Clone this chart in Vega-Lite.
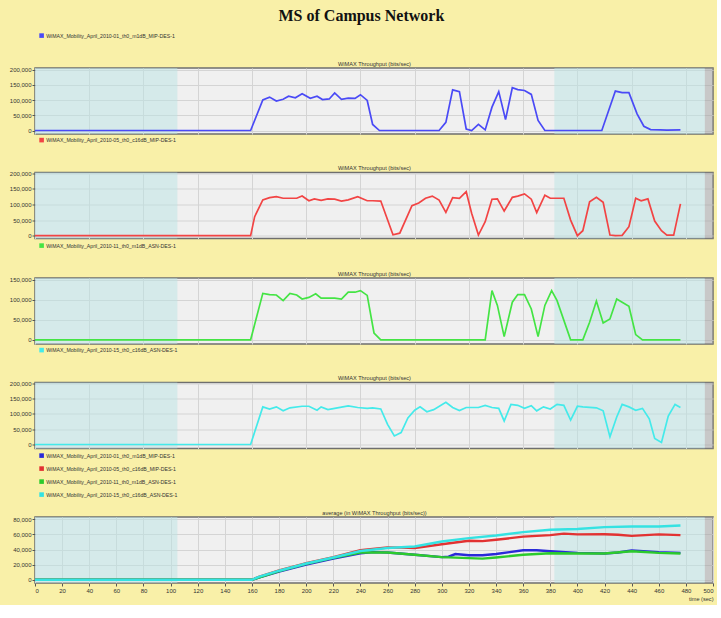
{
  "$schema": "https://vega.github.io/schema/vega-lite/v6.json",
  "background": "#F9F0A8",
  "padding": {"left": 8, "top": 8, "right": 2, "bottom": 2},
  "title": {
    "text": "MS of Campus Network",
    "font": "Liberation Serif",
    "fontSize": 16,
    "fontWeight": "bold",
    "color": "#111111",
    "anchor": "middle",
    "frame": "bounds",
    "offset": 8
  },
  "config": {
    "font": "Liberation Sans",
    "view": {"fill": "#F0F0F0", "stroke": "#6E6E6E", "strokeWidth": 1.5},
    "axis": {
      "labelFont": "Liberation Sans",
      "labelFontSize": 6,
      "labelColor": "#333333",
      "tickColor": "#555555",
      "tickSize": 3,
      "domain": false,
      "gridColor": "#D4D4D4",
      "gridWidth": 1,
      "labelPadding": 1,
      "titleFont": "Liberation Sans",
      "titleFontSize": 5.6,
      "titleFontWeight": "normal",
      "titleColor": "#333333"
    },
    "legend": {
      "orient": "none",
      "labelFont": "Liberation Sans",
      "labelFontSize": 5.2,
      "labelColor": "#333333",
      "symbolType": "square",
      "symbolSize": 4,
      "symbolStrokeWidth": 2.6,
      "rowPadding": 0,
      "labelOffset": 2,
      "padding": 0,
      "title": null
    }
  },
  "datasets": {
    "bands": [
      {"start": 0, "end": 105, "kind": "zone"},
      {"start": 383, "end": 494, "kind": "zone"},
      {"start": 494, "end": 500, "kind": "edge"}
    ],
    "s1": [
      {"t": 0, "v": 0}, {"t": 159, "v": 0}, {"t": 168, "v": 101000}, {"t": 173, "v": 110000},
      {"t": 178, "v": 97000}, {"t": 183, "v": 103000}, {"t": 187, "v": 113000}, {"t": 192, "v": 108000},
      {"t": 197, "v": 121000}, {"t": 203, "v": 106000}, {"t": 208, "v": 113000}, {"t": 212, "v": 102000},
      {"t": 217, "v": 104000}, {"t": 221, "v": 124000}, {"t": 226, "v": 103000}, {"t": 231, "v": 107000},
      {"t": 236, "v": 106000}, {"t": 240, "v": 118000}, {"t": 245, "v": 99000}, {"t": 249, "v": 20000},
      {"t": 254, "v": 0}, {"t": 298, "v": 0}, {"t": 303, "v": 27000}, {"t": 308, "v": 134000},
      {"t": 313, "v": 128000}, {"t": 318, "v": 5000}, {"t": 322, "v": 0}, {"t": 327, "v": 20000},
      {"t": 332, "v": 2000}, {"t": 337, "v": 77000}, {"t": 342, "v": 128000}, {"t": 347, "v": 36000},
      {"t": 352, "v": 141000}, {"t": 356, "v": 135000}, {"t": 361, "v": 132000}, {"t": 366, "v": 119000},
      {"t": 371, "v": 33000}, {"t": 376, "v": 0}, {"t": 418, "v": 0}, {"t": 428, "v": 130000},
      {"t": 433, "v": 125000}, {"t": 438, "v": 125000}, {"t": 444, "v": 55000}, {"t": 449, "v": 14000},
      {"t": 454, "v": 3000}, {"t": 461, "v": 2000}, {"t": 466, "v": 1000}, {"t": 476, "v": 2000}
    ],
    "s2": [
      {"t": 0, "v": 0}, {"t": 159, "v": 0}, {"t": 162, "v": 61000}, {"t": 168, "v": 115000},
      {"t": 173, "v": 122000}, {"t": 178, "v": 125000}, {"t": 183, "v": 120000}, {"t": 188, "v": 120000},
      {"t": 193, "v": 120000}, {"t": 197, "v": 127000}, {"t": 202, "v": 112000}, {"t": 206, "v": 118000},
      {"t": 211, "v": 113000}, {"t": 216, "v": 118000}, {"t": 221, "v": 117000}, {"t": 226, "v": 111000},
      {"t": 231, "v": 115000}, {"t": 238, "v": 125000}, {"t": 245, "v": 112000}, {"t": 249, "v": 112000},
      {"t": 255, "v": 111000}, {"t": 264, "v": 3000}, {"t": 269, "v": 8000}, {"t": 278, "v": 96000},
      {"t": 283, "v": 105000}, {"t": 288, "v": 120000}, {"t": 293, "v": 127000}, {"t": 298, "v": 114000},
      {"t": 303, "v": 75000}, {"t": 308, "v": 122000}, {"t": 313, "v": 120000}, {"t": 318, "v": 141000},
      {"t": 322, "v": 72000}, {"t": 327, "v": 2000}, {"t": 332, "v": 45000}, {"t": 337, "v": 117000},
      {"t": 341, "v": 118000}, {"t": 346, "v": 79000}, {"t": 352, "v": 123000}, {"t": 356, "v": 127000},
      {"t": 361, "v": 134000}, {"t": 366, "v": 117000}, {"t": 370, "v": 74000}, {"t": 376, "v": 130000},
      {"t": 380, "v": 120000}, {"t": 390, "v": 120000}, {"t": 395, "v": 50000}, {"t": 400, "v": 0},
      {"t": 404, "v": 16000}, {"t": 409, "v": 109000}, {"t": 414, "v": 123000}, {"t": 419, "v": 107000},
      {"t": 424, "v": 2000}, {"t": 428, "v": 0}, {"t": 433, "v": 1000}, {"t": 438, "v": 29000},
      {"t": 443, "v": 120000}, {"t": 447, "v": 112000}, {"t": 452, "v": 118000}, {"t": 457, "v": 47000},
      {"t": 462, "v": 16000}, {"t": 466, "v": 2000}, {"t": 471, "v": 2000}, {"t": 476, "v": 102000}
    ],
    "s3": [
      {"t": 0, "v": 0}, {"t": 159, "v": 0}, {"t": 168, "v": 116000}, {"t": 173, "v": 113000},
      {"t": 178, "v": 112000}, {"t": 183, "v": 98000}, {"t": 188, "v": 116000}, {"t": 193, "v": 112000},
      {"t": 197, "v": 102000}, {"t": 202, "v": 106000}, {"t": 207, "v": 115000}, {"t": 211, "v": 104000},
      {"t": 221, "v": 104000}, {"t": 226, "v": 102000}, {"t": 231, "v": 119000}, {"t": 236, "v": 119000},
      {"t": 240, "v": 123000}, {"t": 245, "v": 111000}, {"t": 250, "v": 17000}, {"t": 255, "v": 0},
      {"t": 332, "v": 0}, {"t": 337, "v": 123000}, {"t": 341, "v": 86000}, {"t": 346, "v": 8000},
      {"t": 352, "v": 94000}, {"t": 356, "v": 113000}, {"t": 361, "v": 113000}, {"t": 366, "v": 77000},
      {"t": 371, "v": 8000}, {"t": 376, "v": 86000}, {"t": 381, "v": 123000}, {"t": 385, "v": 98000},
      {"t": 395, "v": 0}, {"t": 404, "v": 0}, {"t": 409, "v": 44000}, {"t": 414, "v": 97000},
      {"t": 419, "v": 42000}, {"t": 424, "v": 52000}, {"t": 429, "v": 102000}, {"t": 433, "v": 94000},
      {"t": 438, "v": 84000}, {"t": 443, "v": 13000}, {"t": 448, "v": 0}, {"t": 476, "v": 0}
    ],
    "s4": [
      {"t": 0, "v": 0}, {"t": 159, "v": 0}, {"t": 168, "v": 123000}, {"t": 173, "v": 116000},
      {"t": 178, "v": 123000}, {"t": 183, "v": 110000}, {"t": 188, "v": 120000}, {"t": 197, "v": 125000},
      {"t": 202, "v": 125000}, {"t": 208, "v": 112000}, {"t": 211, "v": 123000}, {"t": 216, "v": 114000},
      {"t": 221, "v": 118000}, {"t": 231, "v": 126000}, {"t": 238, "v": 121000}, {"t": 245, "v": 118000},
      {"t": 249, "v": 120000}, {"t": 255, "v": 116000}, {"t": 260, "v": 66000}, {"t": 265, "v": 28000},
      {"t": 270, "v": 39000}, {"t": 275, "v": 87000}, {"t": 280, "v": 112000}, {"t": 284, "v": 123000},
      {"t": 289, "v": 107000}, {"t": 294, "v": 114000}, {"t": 303, "v": 138000}, {"t": 308, "v": 121000},
      {"t": 313, "v": 111000}, {"t": 318, "v": 121000}, {"t": 327, "v": 121000}, {"t": 332, "v": 128000},
      {"t": 337, "v": 121000}, {"t": 342, "v": 118000}, {"t": 346, "v": 77000}, {"t": 351, "v": 131000},
      {"t": 356, "v": 128000}, {"t": 361, "v": 118000}, {"t": 366, "v": 127000}, {"t": 370, "v": 110000},
      {"t": 375, "v": 123000}, {"t": 380, "v": 116000}, {"t": 385, "v": 131000}, {"t": 390, "v": 128000},
      {"t": 395, "v": 80000}, {"t": 400, "v": 125000}, {"t": 404, "v": 123000}, {"t": 414, "v": 120000},
      {"t": 419, "v": 110000}, {"t": 424, "v": 25000}, {"t": 429, "v": 90000}, {"t": 433, "v": 131000},
      {"t": 438, "v": 123000}, {"t": 443, "v": 112000}, {"t": 448, "v": 118000}, {"t": 453, "v": 84000},
      {"t": 457, "v": 20000}, {"t": 462, "v": 7000}, {"t": 467, "v": 93000}, {"t": 472, "v": 131000},
      {"t": 476, "v": 121000}
    ],
    "avg": [
      {"series": "WiMAX_Mobility_April_2010-01_th0_m1dB_MIP-DES-1", "t": 0, "v": 0},
      {"series": "WiMAX_Mobility_April_2010-01_th0_m1dB_MIP-DES-1", "t": 160, "v": 0},
      {"series": "WiMAX_Mobility_April_2010-01_th0_m1dB_MIP-DES-1", "t": 165, "v": 3000},
      {"series": "WiMAX_Mobility_April_2010-01_th0_m1dB_MIP-DES-1", "t": 180, "v": 11000},
      {"series": "WiMAX_Mobility_April_2010-01_th0_m1dB_MIP-DES-1", "t": 200, "v": 20000},
      {"series": "WiMAX_Mobility_April_2010-01_th0_m1dB_MIP-DES-1", "t": 220, "v": 28000},
      {"series": "WiMAX_Mobility_April_2010-01_th0_m1dB_MIP-DES-1", "t": 240, "v": 35000},
      {"series": "WiMAX_Mobility_April_2010-01_th0_m1dB_MIP-DES-1", "t": 250, "v": 36500},
      {"series": "WiMAX_Mobility_April_2010-01_th0_m1dB_MIP-DES-1", "t": 260, "v": 36000},
      {"series": "WiMAX_Mobility_April_2010-01_th0_m1dB_MIP-DES-1", "t": 280, "v": 33000},
      {"series": "WiMAX_Mobility_April_2010-01_th0_m1dB_MIP-DES-1", "t": 300, "v": 30000},
      {"series": "WiMAX_Mobility_April_2010-01_th0_m1dB_MIP-DES-1", "t": 305, "v": 30500},
      {"series": "WiMAX_Mobility_April_2010-01_th0_m1dB_MIP-DES-1", "t": 310, "v": 34000},
      {"series": "WiMAX_Mobility_April_2010-01_th0_m1dB_MIP-DES-1", "t": 320, "v": 32500},
      {"series": "WiMAX_Mobility_April_2010-01_th0_m1dB_MIP-DES-1", "t": 330, "v": 32500},
      {"series": "WiMAX_Mobility_April_2010-01_th0_m1dB_MIP-DES-1", "t": 340, "v": 34000},
      {"series": "WiMAX_Mobility_April_2010-01_th0_m1dB_MIP-DES-1", "t": 350, "v": 36500},
      {"series": "WiMAX_Mobility_April_2010-01_th0_m1dB_MIP-DES-1", "t": 360, "v": 39000},
      {"series": "WiMAX_Mobility_April_2010-01_th0_m1dB_MIP-DES-1", "t": 370, "v": 39000},
      {"series": "WiMAX_Mobility_April_2010-01_th0_m1dB_MIP-DES-1", "t": 380, "v": 37700},
      {"series": "WiMAX_Mobility_April_2010-01_th0_m1dB_MIP-DES-1", "t": 400, "v": 35600},
      {"series": "WiMAX_Mobility_April_2010-01_th0_m1dB_MIP-DES-1", "t": 420, "v": 34700},
      {"series": "WiMAX_Mobility_April_2010-01_th0_m1dB_MIP-DES-1", "t": 430, "v": 36000},
      {"series": "WiMAX_Mobility_April_2010-01_th0_m1dB_MIP-DES-1", "t": 440, "v": 38600},
      {"series": "WiMAX_Mobility_April_2010-01_th0_m1dB_MIP-DES-1", "t": 460, "v": 36500},
      {"series": "WiMAX_Mobility_April_2010-01_th0_m1dB_MIP-DES-1", "t": 476, "v": 35600},
      {"series": "WiMAX_Mobility_April_2010-05_th0_c16dB_MIP-DES-1", "t": 0, "v": 0},
      {"series": "WiMAX_Mobility_April_2010-05_th0_c16dB_MIP-DES-1", "t": 160, "v": 0},
      {"series": "WiMAX_Mobility_April_2010-05_th0_c16dB_MIP-DES-1", "t": 165, "v": 4000},
      {"series": "WiMAX_Mobility_April_2010-05_th0_c16dB_MIP-DES-1", "t": 180, "v": 12500},
      {"series": "WiMAX_Mobility_April_2010-05_th0_c16dB_MIP-DES-1", "t": 200, "v": 22000},
      {"series": "WiMAX_Mobility_April_2010-05_th0_c16dB_MIP-DES-1", "t": 220, "v": 30000},
      {"series": "WiMAX_Mobility_April_2010-05_th0_c16dB_MIP-DES-1", "t": 240, "v": 39000},
      {"series": "WiMAX_Mobility_April_2010-05_th0_c16dB_MIP-DES-1", "t": 260, "v": 42600},
      {"series": "WiMAX_Mobility_April_2010-05_th0_c16dB_MIP-DES-1", "t": 270, "v": 42500},
      {"series": "WiMAX_Mobility_April_2010-05_th0_c16dB_MIP-DES-1", "t": 280, "v": 42000},
      {"series": "WiMAX_Mobility_April_2010-05_th0_c16dB_MIP-DES-1", "t": 300, "v": 47000},
      {"series": "WiMAX_Mobility_April_2010-05_th0_c16dB_MIP-DES-1", "t": 320, "v": 51500},
      {"series": "WiMAX_Mobility_April_2010-05_th0_c16dB_MIP-DES-1", "t": 330, "v": 51000},
      {"series": "WiMAX_Mobility_April_2010-05_th0_c16dB_MIP-DES-1", "t": 340, "v": 52800},
      {"series": "WiMAX_Mobility_April_2010-05_th0_c16dB_MIP-DES-1", "t": 360, "v": 57000},
      {"series": "WiMAX_Mobility_April_2010-05_th0_c16dB_MIP-DES-1", "t": 380, "v": 59000},
      {"series": "WiMAX_Mobility_April_2010-05_th0_c16dB_MIP-DES-1", "t": 390, "v": 61000},
      {"series": "WiMAX_Mobility_April_2010-05_th0_c16dB_MIP-DES-1", "t": 400, "v": 60000},
      {"series": "WiMAX_Mobility_April_2010-05_th0_c16dB_MIP-DES-1", "t": 420, "v": 60200},
      {"series": "WiMAX_Mobility_April_2010-05_th0_c16dB_MIP-DES-1", "t": 430, "v": 59500},
      {"series": "WiMAX_Mobility_April_2010-05_th0_c16dB_MIP-DES-1", "t": 440, "v": 58000},
      {"series": "WiMAX_Mobility_April_2010-05_th0_c16dB_MIP-DES-1", "t": 460, "v": 60000},
      {"series": "WiMAX_Mobility_April_2010-05_th0_c16dB_MIP-DES-1", "t": 476, "v": 59000},
      {"series": "WiMAX_Mobility_April_2010-11_th0_m1dB_ASN-DES-1", "t": 0, "v": 0},
      {"series": "WiMAX_Mobility_April_2010-11_th0_m1dB_ASN-DES-1", "t": 160, "v": 0},
      {"series": "WiMAX_Mobility_April_2010-11_th0_m1dB_ASN-DES-1", "t": 165, "v": 3000},
      {"series": "WiMAX_Mobility_April_2010-11_th0_m1dB_ASN-DES-1", "t": 180, "v": 11500},
      {"series": "WiMAX_Mobility_April_2010-11_th0_m1dB_ASN-DES-1", "t": 200, "v": 21000},
      {"series": "WiMAX_Mobility_April_2010-11_th0_m1dB_ASN-DES-1", "t": 220, "v": 29000},
      {"series": "WiMAX_Mobility_April_2010-11_th0_m1dB_ASN-DES-1", "t": 240, "v": 36000},
      {"series": "WiMAX_Mobility_April_2010-11_th0_m1dB_ASN-DES-1", "t": 260, "v": 36000},
      {"series": "WiMAX_Mobility_April_2010-11_th0_m1dB_ASN-DES-1", "t": 280, "v": 33000},
      {"series": "WiMAX_Mobility_April_2010-11_th0_m1dB_ASN-DES-1", "t": 300, "v": 30000},
      {"series": "WiMAX_Mobility_April_2010-11_th0_m1dB_ASN-DES-1", "t": 320, "v": 28600},
      {"series": "WiMAX_Mobility_April_2010-11_th0_m1dB_ASN-DES-1", "t": 330, "v": 28000},
      {"series": "WiMAX_Mobility_April_2010-11_th0_m1dB_ASN-DES-1", "t": 340, "v": 29500},
      {"series": "WiMAX_Mobility_April_2010-11_th0_m1dB_ASN-DES-1", "t": 360, "v": 33000},
      {"series": "WiMAX_Mobility_April_2010-11_th0_m1dB_ASN-DES-1", "t": 380, "v": 35000},
      {"series": "WiMAX_Mobility_April_2010-11_th0_m1dB_ASN-DES-1", "t": 400, "v": 34700},
      {"series": "WiMAX_Mobility_April_2010-11_th0_m1dB_ASN-DES-1", "t": 420, "v": 34700},
      {"series": "WiMAX_Mobility_April_2010-11_th0_m1dB_ASN-DES-1", "t": 440, "v": 37700},
      {"series": "WiMAX_Mobility_April_2010-11_th0_m1dB_ASN-DES-1", "t": 460, "v": 35600},
      {"series": "WiMAX_Mobility_April_2010-11_th0_m1dB_ASN-DES-1", "t": 476, "v": 34700},
      {"series": "WiMAX_Mobility_April_2010-15_th0_c16dB_ASN-DES-1", "t": 0, "v": 0},
      {"series": "WiMAX_Mobility_April_2010-15_th0_c16dB_ASN-DES-1", "t": 160, "v": 0},
      {"series": "WiMAX_Mobility_April_2010-15_th0_c16dB_ASN-DES-1", "t": 165, "v": 4000},
      {"series": "WiMAX_Mobility_April_2010-15_th0_c16dB_ASN-DES-1", "t": 180, "v": 12000},
      {"series": "WiMAX_Mobility_April_2010-15_th0_c16dB_ASN-DES-1", "t": 200, "v": 21500},
      {"series": "WiMAX_Mobility_April_2010-15_th0_c16dB_ASN-DES-1", "t": 220, "v": 29500},
      {"series": "WiMAX_Mobility_April_2010-15_th0_c16dB_ASN-DES-1", "t": 240, "v": 38000},
      {"series": "WiMAX_Mobility_April_2010-15_th0_c16dB_ASN-DES-1", "t": 260, "v": 42000},
      {"series": "WiMAX_Mobility_April_2010-15_th0_c16dB_ASN-DES-1", "t": 280, "v": 44000},
      {"series": "WiMAX_Mobility_April_2010-15_th0_c16dB_ASN-DES-1", "t": 300, "v": 50500},
      {"series": "WiMAX_Mobility_April_2010-15_th0_c16dB_ASN-DES-1", "t": 320, "v": 55000},
      {"series": "WiMAX_Mobility_April_2010-15_th0_c16dB_ASN-DES-1", "t": 340, "v": 58500},
      {"series": "WiMAX_Mobility_April_2010-15_th0_c16dB_ASN-DES-1", "t": 360, "v": 63000},
      {"series": "WiMAX_Mobility_April_2010-15_th0_c16dB_ASN-DES-1", "t": 380, "v": 66000},
      {"series": "WiMAX_Mobility_April_2010-15_th0_c16dB_ASN-DES-1", "t": 400, "v": 67000},
      {"series": "WiMAX_Mobility_April_2010-15_th0_c16dB_ASN-DES-1", "t": 420, "v": 69500},
      {"series": "WiMAX_Mobility_April_2010-15_th0_c16dB_ASN-DES-1", "t": 440, "v": 70400},
      {"series": "WiMAX_Mobility_April_2010-15_th0_c16dB_ASN-DES-1", "t": 460, "v": 70400},
      {"series": "WiMAX_Mobility_April_2010-15_th0_c16dB_ASN-DES-1", "t": 476, "v": 71700}
    ]
  },
  "spacing": 2,
  "resolve": {
    "scale": {"color": "independent", "fill": "independent", "x": "independent", "y": "independent"},
    "legend": {"color": "independent", "fill": "independent"},
    "axis": {"x": "independent", "y": "independent"}
  },
  "vconcat": [
    {
      "spacing": 1.5,
      "resolve": {
        "scale": {"color": "independent", "fill": "independent", "x": "independent", "y": "independent"},
        "legend": {"color": "independent", "fill": "independent"},
        "axis": {"x": "independent", "y": "independent"}
      },
      "vconcat": [
        {
          "width": 678,
          "height": 66,
          "layer": [
            {
              "data": {"name": "bands"},
              "mark": {"type": "rect", "opacity": 0.5},
              "encoding": {
                "x": {"field": "start", "type": "quantitative", "scale": {"domain": [0, 500], "nice": false}, "axis": {"orient": "top", "values": [0, 20, 40, 60, 80, 100, 120, 140, 160, 180, 200, 220, 240, 260, 280, 300, 320, 340, 360, 380, 400, 420, 440, 460, 480, 500], "grid": true, "labels": false, "ticks": false, "title": "WiMAX Throughput (bits/sec)", "titlePadding": 2}},
                "x2": {"field": "end"},
                "fill": {"field": "kind", "type": "nominal", "scale": {"domain": ["zone", "edge"], "range": ["#B9E4E4", "#A0A0A0"]}, "legend": null}
              }
            },
            {
              "data": {"name": "s1"},
              "mark": {"type": "line", "strokeWidth": 1.7},
              "encoding": {
                "x": {"field": "t", "type": "quantitative"},
                "y": {"field": "v", "type": "quantitative", "scale": {"domain": [-11500, 206000], "nice": false, "zero": false}, "axis": {"values": [0, 50000, 100000, 150000, 200000], "format": ",.0f", "grid": true, "title": null}},
                "color": {"datum": "WiMAX_Mobility_April_2010-01_th0_m1dB_MIP-DES-1", "scale": {"range": ["#4A4AF6"]}, "legend": {"legendX": 4, "legendY": -35}}
              }
            }
          ]
        },
        {
          "width": 678,
          "height": 66,
          "layer": [
            {
              "data": {"name": "bands"},
              "mark": {"type": "rect", "opacity": 0.5},
              "encoding": {
                "x": {"field": "start", "type": "quantitative", "scale": {"domain": [0, 500], "nice": false}, "axis": {"orient": "top", "values": [0, 20, 40, 60, 80, 100, 120, 140, 160, 180, 200, 220, 240, 260, 280, 300, 320, 340, 360, 380, 400, 420, 440, 460, 480, 500], "grid": true, "labels": false, "ticks": false, "title": "WiMAX Throughput (bits/sec)", "titlePadding": 2}},
                "x2": {"field": "end"},
                "fill": {"field": "kind", "type": "nominal", "scale": {"domain": ["zone", "edge"], "range": ["#B9E4E4", "#A0A0A0"]}, "legend": null}
              }
            },
            {
              "data": {"name": "s2"},
              "mark": {"type": "line", "strokeWidth": 1.7},
              "encoding": {
                "x": {"field": "t", "type": "quantitative"},
                "y": {"field": "v", "type": "quantitative", "scale": {"domain": [-9000, 202600], "nice": false, "zero": false}, "axis": {"values": [0, 50000, 100000, 150000, 200000], "format": ",.0f", "grid": true, "title": null}},
                "color": {"datum": "WiMAX_Mobility_April_2010-05_th0_c16dB_MIP-DES-1", "scale": {"range": ["#F24444"]}, "legend": {"legendX": 4, "legendY": -35}}
              }
            }
          ]
        },
        {
          "width": 678,
          "height": 66,
          "layer": [
            {
              "data": {"name": "bands"},
              "mark": {"type": "rect", "opacity": 0.5},
              "encoding": {
                "x": {"field": "start", "type": "quantitative", "scale": {"domain": [0, 500], "nice": false}, "axis": {"orient": "top", "values": [0, 20, 40, 60, 80, 100, 120, 140, 160, 180, 200, 220, 240, 260, 280, 300, 320, 340, 360, 380, 400, 420, 440, 460, 480, 500], "grid": true, "labels": false, "ticks": false, "title": "WiMAX Throughput (bits/sec)", "titlePadding": 2}},
                "x2": {"field": "end"},
                "fill": {"field": "kind", "type": "nominal", "scale": {"domain": ["zone", "edge"], "range": ["#B9E4E4", "#A0A0A0"]}, "legend": null}
              }
            },
            {
              "data": {"name": "s3"},
              "mark": {"type": "line", "strokeWidth": 1.7},
              "encoding": {
                "x": {"field": "t", "type": "quantitative"},
                "y": {"field": "v", "type": "quantitative", "scale": {"domain": [-10500, 154500], "nice": false, "zero": false}, "axis": {"values": [0, 50000, 100000, 150000], "format": ",.0f", "grid": true, "title": null}},
                "color": {"datum": "WiMAX_Mobility_April_2010-11_th0_m1dB_ASN-DES-1", "scale": {"range": ["#44E444"]}, "legend": {"legendX": 4, "legendY": -35}}
              }
            }
          ]
        },
        {
          "width": 678,
          "height": 66,
          "layer": [
            {
              "data": {"name": "bands"},
              "mark": {"type": "rect", "opacity": 0.5},
              "encoding": {
                "x": {"field": "start", "type": "quantitative", "scale": {"domain": [0, 500], "nice": false}, "axis": {"orient": "top", "values": [0, 20, 40, 60, 80, 100, 120, 140, 160, 180, 200, 220, 240, 260, 280, 300, 320, 340, 360, 380, 400, 420, 440, 460, 480, 500], "grid": true, "labels": false, "ticks": false, "title": "WiMAX Throughput (bits/sec)", "titlePadding": 2}},
                "x2": {"field": "end"},
                "fill": {"field": "kind", "type": "nominal", "scale": {"domain": ["zone", "edge"], "range": ["#B9E4E4", "#A0A0A0"]}, "legend": null}
              }
            },
            {
              "data": {"name": "s4"},
              "mark": {"type": "line", "strokeWidth": 1.7},
              "encoding": {
                "x": {"field": "t", "type": "quantitative"},
                "y": {"field": "v", "type": "quantitative", "scale": {"domain": [-13000, 202600], "nice": false, "zero": false}, "axis": {"values": [0, 50000, 100000, 150000, 200000], "format": ",.0f", "grid": true, "title": null}},
                "color": {"datum": "WiMAX_Mobility_April_2010-15_th0_c16dB_ASN-DES-1", "scale": {"range": ["#44EAEA"]}, "legend": {"legendX": 4, "legendY": -35}}
              }
            }
          ]
        }
      ]
    },
    {
      "width": 678,
      "height": 66,
      "resolve": {"axis": {"x": "independent"}},
      "layer": [
        {
          "data": {"name": "bands"},
          "mark": {"type": "rect", "opacity": 0.5},
          "encoding": {
            "x": {"field": "start", "type": "quantitative", "scale": {"domain": [0, 500], "nice": false}, "axis": {"orient": "top", "grid": false, "labels": false, "ticks": false, "title": "average (in WiMAX Throughput (bits/sec))", "titlePadding": 2}},
            "x2": {"field": "end"},
            "fill": {"field": "kind", "type": "nominal", "scale": {"domain": ["zone", "edge"], "range": ["#B9E4E4", "#A0A0A0"]}, "legend": null}
          }
        },
        {
          "data": {"name": "avg"},
          "mark": {"type": "line", "strokeWidth": 2.4},
          "encoding": {
            "x": {"field": "t", "type": "quantitative", "axis": {"orient": "bottom", "values": [0, 20, 40, 60, 80, 100, 120, 140, 160, 180, 200, 220, 240, 260, 280, 300, 320, 340, 360, 380, 400, 420, 440, 460, 480, 500], "grid": true, "title": "time (sec)", "titleAnchor": "end", "titlePadding": 3}},
            "y": {"field": "v", "type": "quantitative", "scale": {"domain": [-4200, 82900], "nice": false, "zero": false}, "axis": {"values": [0, 20000, 40000, 60000, 80000], "format": ",.0f", "grid": true, "title": null}},
            "color": {
              "field": "series",
              "type": "nominal",
              "scale": {
                "domain": ["WiMAX_Mobility_April_2010-01_th0_m1dB_MIP-DES-1", "WiMAX_Mobility_April_2010-05_th0_c16dB_MIP-DES-1", "WiMAX_Mobility_April_2010-11_th0_m1dB_ASN-DES-1", "WiMAX_Mobility_April_2010-15_th0_c16dB_ASN-DES-1"],
                "range": ["#2A2AD8", "#E23232", "#2CCB2C", "#34E2E2"]
              },
              "legend": {"legendX": 4, "legendY": -64, "rowPadding": 0}
            }
          }
        }
      ]
    }
  ]
}
